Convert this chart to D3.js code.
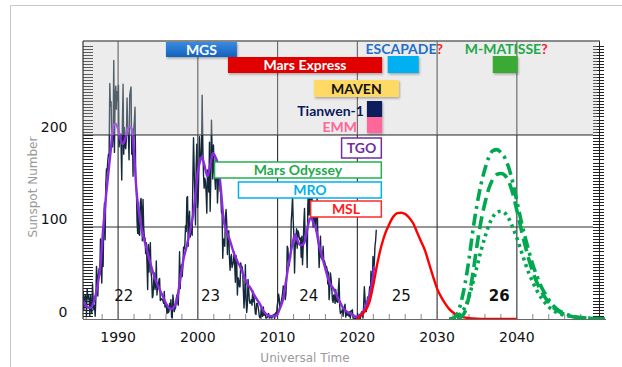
<!DOCTYPE html>
<html><head><meta charset="utf-8">
<script src="https://cdn.jsdelivr.net/npm/d3@7"></script>
<style>body{margin:0;background:#fff;}svg{display:block;}</style>
</head><body>
<svg id="chart" width="622" height="367"></svg>
<script>
// ---------------- DATA ----------------
// Monthly sunspot numbers, starting July 1985
const rawStartYear = 1985, rawStartMonth = 6;
const rawMonthly = [
 20,30,10,22,26,24,
 4,33,22,26,20,3,26,11,6,38,22,10,
 15,3,21,57,47,25,47,55,48,87,57,39,
 84,57,109,126,86,146,163,160,172,179,179,256,
 231,236,188,187,198,281,181,242,253,228,247,237,
 254,187,201,201,189,151,214,255,179,208,188,185,
 196,240,203,200,173,243,248,252,179,206,155,206,
 215,230,153,143,106,93,123,92,91,127,131,118,
 85,130,100,89,88,71,83,60,32,81,51,70,
 83,51,45,23,25,40,50,32,37,63,26,37,
 35,43,44,20,21,22,21,20,17,30,13,14,
 16,6,13,7,8,17,12,21,2,1,26,19,
 8,11,12,22,26,18,15,35,73,33,56,59,
 46,58,78,76,81,101,95,132,133,79,106,117,
 89,95,98,91,152,197,162,134,102,167,190,121,
 129,161,198,179,174,179,243,187,157,142,153,149,
 137,115,162,154,138,192,117,152,216,180,152,189,
 163,154,141,173,173,126,142,166,157,139,137,116,
 114,66,87,86,79,111,119,104,70,94,96,67,
 53,66,70,56,59,62,73,58,40,69,62,26,
 45,42,35,35,61,56,57,52,31,12,26,59,
 22,7,15,43,32,20,17,18,21,15,31,19,
 24,15,6,5,17,17,14,9,3,1,2,14,
 4,3,13,4,5,5,1,1,2,4,6,1,
 2,2,1,1,4,4,5,0,6,7,6,15,
 19,27,22,11,13,19,23,28,36,34,31,21,
 27,41,79,77,61,58,66,66,106,117,134,107,
 91,50,78,85,98,77,96,94,89,86,88,67,
 90,59,79,104,120,87,89,93,56,124,143,113,
 123,146,129,143,114,100,118,104,121,96,120,131,
 91,81,56,72,90,67,66,64,79,62,63,60,
 57,57,54,38,51,21,33,50,44,33,21,18,
 26,26,17,32,19,19,18,33,44,13,6,8,
 7,11,3,9,13,16,2,9,4,5,6,3,
 8,1,9,9,10,1,1,0.5,1,0.4,0.5,1.5,
 6,0.2,1.5,5,0.2,6,8,7,1,15,35,23,
 10,8,17,24,21,25,35,24,52,38,35,68,
 55,60,79,85,97
];

// Smoothed sunspot number (purple)
const smoothYears = [1985.6,1986.0,1986.5,1987.0,1987.4,1987.8,1988.1,1988.5,1988.8,1989.1,1989.4,1989.7,1989.95,1990.3,1990.6,1990.9,1991.2,1991.5,1991.75,1992.0,1992.3,1992.7,1993.1,1993.5,1994.0,1994.4,1994.8,1995.2,1995.6,1996.0,1996.4,1996.7,1997.0,1997.3,1997.6,1997.9,1998.2,1998.6,1999.0,1999.4,1999.7,2000.0,2000.3,2000.5,2000.8,2001.2,2001.5,2001.9,2002.2,2002.6,2002.9,2003.2,2003.6,2004.0,2004.5,2005.0,2005.3,2005.8,2006.2,2006.5,2007.0,2007.5,2007.8,2008.2,2008.8,2009.3,2009.9,2010.3,2010.7,2011.0,2011.3,2011.6,2011.9,2012.2,2012.5,2012.9,2013.3,2013.6,2013.9,2014.2,2014.5,2014.8,2015.2,2015.7,2016.2,2016.6,2017.0,2017.5,2017.9,2018.2,2018.7,2019.1,2019.5,2019.9,2020.2,2020.6,2020.9,2021.3,2021.6,2021.85,2022.1];
const smoothValues = [20,14,12,20,35,60,95,135,160,185,210,212,208,195,190,196,207,209,205,180,140,111,92,79,62,50,40,32,25,17,12,11,13,18,32,50,65,79,95,113,135,160,172,176,168,155,165,180,176,165,140,110,95,86,72,62,57,46,38,35,27,20,16,9,4,3,4,12,22,38,55,70,83,92,85,80,82,92,105,110,104,98,80,64,48,38,33,24,17,12,8,6,4,2,3,6,11,20,28,40,57];

// Cycle 25 prediction (red)
const c25Years  = [2019.9,2020.5,2021,2021.5,2022,2022.5,2023,2023.5,2024,2024.5,2025,2025.5,2026,2026.5,2027,2027.5,2028,2028.5,2029,2029.5,2030,2030.5,2031,2031.5,2032,2032.5,2033,2034,2035,2036,2038,2040,2045,2049.3,2051];
const c25Values = [0,4,9,18,37,60,79,93,103,111,115,115.5,114,110,104,94,84,74,60,46,33,24,17,11,7,4,2.5,1,0.3,0,0,0,null,0,0];

// Cycle 26 predictions (green)
const c26Years = [2031.5,2032,2032.5,2033,2033.5,2034,2034.5,2035,2035.5,2036,2036.5,2037,2037.5,2038,2038.5,2039,2039.5,2040,2040.5,2041,2041.5,2042,2042.5,2043,2043.5,2044,2044.5,2045,2045.5,2046,2047,2048,2049,2050,2051];
const c26High   = [0,1,5,18,38,65,97,124,146,163,176,183,184,181,175,164,148,128,108,90,74,59,47,36,28,21,15,11,8,6,3,1.5,0.8,0.4,0.2];
const c26Mid    = [null,null,0,2,8,25,50,80,106,126,142,152,157,158,156,149,136,118,99,81,65,51,40,31,24,18,13,9.5,7,5,2.5,1.2,0.5,0.2,0.1];
const c26Low    = [null,0,2,6,13,24,40,57,74,89,102,111,116,117,115,109,99,88,75,62,50,40,31,24,18,13,10,7,5,4,2.5,1.5,1,0.5,0.3];

// Axis ticks
const xTickYears = [1990,2000,2010,2020,2030,2040];
const yTickValues = [0,100,200];

// Cycle labels
const cycleLabels = ["22","23","24","25","26"];
const cycleYears  = [1990.7,2001.6,2013.9,2025.5,2037.8];

// Mars missions
const missionNames  = ["MGS","Mars Express","MAVEN","Tianwen-1","EMM","TGO","Mars Odyssey","MRO","MSL","ESCAPADE","M-MATISSE"];
const missionStart  = [1996.0,2003.77,2014.55,2021.2,2021.2,2017.93,2002.0,2005.0,2014.05,2023.8,2036.98];
const missionEnd    = [2004.9,2023.1,2025.2,2023.1,2023.1,2023.1,2023.1,2023.1,2023.1,2027.7,2040.1];

// ---------------- LAYOUT / STYLE ----------------
const svg = d3.select("#chart");
const x = d3.scaleLinear().domain([1985.6, 2050.3]).range([83, 599]);
const y = d3.scaleLinear().domain([0, 302]).range([319, 41]);
const plotL = 83, plotR = 593, plotT = 41, plotB = 319;

const defs = svg.append("defs");
defs.append("clipPath").attr("id","clip").append("rect")
  .attr("x",plotL).attr("y",plotT-2).attr("width",608-plotL).attr("height",plotB-plotT+3);
const g1 = defs.append("linearGradient").attr("id","mgsGrad").attr("x1",0).attr("y1",0).attr("x2",0).attr("y2",1);
g1.append("stop").attr("offset","0").attr("stop-color","#3a8ae0");
g1.append("stop").attr("offset","1").attr("stop-color","#1462bd");
const sh = defs.append("filter").attr("id","shadow").attr("x","-10%").attr("y","-20%").attr("width","130%").attr("height","160%");
sh.append("feDropShadow").attr("dx",1).attr("dy",1.5).attr("stdDeviation",0.8).attr("flood-color","#000").attr("flood-opacity",0.3);

// outer frame
svg.append("path").attr("d","M10.5,367 V5.5 H622").attr("fill","none").attr("stroke","#c8c8c8").attr("stroke-width",1);

// grid
svg.append("g").selectAll("line").data(xTickYears).join("line")
  .attr("x1",d=>x(d)).attr("x2",d=>x(d)).attr("y1",plotT).attr("y2",plotB)
  .attr("stroke","#2e2e2e").attr("stroke-width",1.1);
svg.append("g").selectAll("line").data([100,200]).join("line")
  .attr("x1",plotL).attr("x2",plotR).attr("y1",d=>y(d)).attr("y2",d=>y(d))
  .attr("stroke","#2e2e2e").attr("stroke-width",1.1);

// minor ticks bottom (every 2 years)
const minorX = d3.range(1986, 2051, 2).filter(v=>v%10!==0);
svg.append("g").selectAll("line").data(minorX).join("line")
  .attr("x1",d=>x(d)).attr("x2",d=>x(d)).attr("y1",plotB).attr("y2",plotB-5)
  .attr("stroke","#888").attr("stroke-width",1);

// left inner ticks
const yMinor = d3.range(0, 300, 10/3);
svg.append("g").selectAll("line").data(yMinor).join("line")
  .attr("x1",plotL).attr("x2",plotL+10).attr("y1",d=>Math.round(y(d))+0.5).attr("y2",d=>Math.round(y(d))+0.5)
  .attr("stroke","#222").attr("stroke-width",1);
// right axis with ticks
svg.append("line").attr("x1",599.5).attr("x2",599.5).attr("y1",plotT).attr("y2",plotB)
  .attr("stroke","#222").attr("stroke-width",1);
svg.append("g").selectAll("line").data(yMinor).join("line")
  .attr("x1",593).attr("x2",604).attr("y1",d=>Math.round(y(d))+0.5).attr("y2",d=>Math.round(y(d))+0.5)
  .attr("stroke","#222").attr("stroke-width",1);

// data lines
const data = svg.append("g").attr("clip-path","url(#clip)");
const rawPts = rawMonthly.map((v,i)=>({t: rawStartYear + (rawStartMonth + i + 0.5)/12, v}));
const line = d3.line().defined(d=>d.v!=null).x(d=>x(d.t)).y(d=>y(d.v));
data.append("path").datum(rawPts).attr("d",line).attr("fill","none")
  .attr("stroke","#13283a").attr("stroke-width",1.4).attr("stroke-linejoin","round");
const smoothLine = d3.line().curve(d3.curveMonotoneX).defined(d=>d.v!=null).x(d=>x(d.t)).y(d=>y(d.v));
data.append("path").datum(smoothYears.map((t,i)=>({t,v:smoothValues[i]}))).attr("d",smoothLine)
  .attr("fill","none").attr("stroke","#8a2be2").attr("stroke-width",2.4);
data.append("path").datum(c25Years.map((t,i)=>({t,v:c25Values[i]}))).attr("d",smoothLine)
  .attr("fill","none").attr("stroke","#ff0000").attr("stroke-width",2.4);
const greenStyles = [
  {vals:c26High, dash:"12,5,3,5"},
  {vals:c26Mid,  dash:"13,6"},
  {vals:c26Low,  dash:"3,4"}
];
greenStyles.forEach(s=>{
  data.append("path").datum(c26Years.map((t,i)=>({t,v:s.vals[i]}))).attr("d",smoothLine)
    .attr("fill","none").attr("stroke","#00a850").attr("stroke-width",3.6).attr("stroke-dasharray",s.dash);
});

// shaded overlay above 200
svg.append("rect").attr("x",plotL).attr("y",plotT).attr("width",plotR-plotL+4).attr("height",y(200)-plotT)
  .attr("fill","rgb(200,200,200)").attr("opacity",0.35);

// frame lines
svg.append("line").attr("x1",plotL).attr("x2",600).attr("y1",plotT).attr("y2",plotT).attr("stroke","#666").attr("stroke-width",1.5);
svg.append("line").attr("x1",plotL).attr("x2",plotL).attr("y1",plotT).attr("y2",plotB).attr("stroke","#333").attr("stroke-width",1.2);
svg.append("line").attr("x1",plotL).attr("x2",606).attr("y1",plotB+0.5).attr("y2",plotB+0.5).attr("stroke","#666").attr("stroke-width",1.2);

// axis labels
const tickFont = "'DejaVu Sans', Verdana, sans-serif";
svg.append("g").selectAll("text").data(xTickYears).join("text")
  .attr("x",d=>x(d)).attr("y",342).attr("text-anchor","middle")
  .attr("font-family",tickFont).attr("font-size",14).attr("fill","#111").text(d=>d);
svg.append("g").selectAll("text").data(yTickValues).join("text")
  .attr("x",67.5).attr("y",d=>y(d)-2.5).attr("text-anchor","end")
  .attr("font-family",tickFont).attr("font-size",14).attr("fill","#111").text(d=>d);
svg.append("text").attr("transform","translate(37,187) rotate(-90)").attr("text-anchor","middle")
  .attr("font-family",tickFont).attr("font-size",12).attr("fill","#9a9a9a").text("Sunspot Number");
svg.append("text").attr("x",305).attr("y",362).attr("text-anchor","middle")
  .attr("font-family",tickFont).attr("font-size",12).attr("fill","#9a9a9a").text("Universal Time");

// cycle labels
svg.append("g").selectAll("text").data(cycleLabels).join("text")
  .attr("x",(d,i)=>x(cycleYears[i])).attr("y",301).attr("text-anchor","middle")
  .attr("font-family",tickFont).attr("font-size",15).attr("font-weight",(d,i)=>i===4?"bold":"normal")
  .attr("fill","#111").text(d=>d);

// missions
const rowTop = [42,57,80,101,117,138,162,182,201,56,56];
const rowH   = [15,16,17,16,16,20,16,16,16,17,17];
const mFill  = ["url(#mgsGrad)","#e00000","#ffd966","#0c1a5c","#ff6699","#fff","#fff","#fff","#fff","#00b0f0","#3aaa35"];
const mStroke= [null,null,null,null,null,"#7030a0","#22b14c","#00b0f0","#ff2a2a",null,null];
const mText  = ["#fff","#fff","#111","#0c1a5c","#ff6699","#7030a0","#1fa84d","#00b0f0","#ff1a1a","#1f6ec9","#22a84a"];
const mLabelPos = ["in","in","in","left","left","in","in","in","in","above","above"];
const mLabelDx = [0,0,0,-3,-10,0,0,0,0,0,0];
const labelFont = "Lato, 'Open Sans', sans-serif";
const mg = svg.append("g");
missionNames.forEach((name,i)=>{
  const x0 = x(missionStart[i]), x1 = x(missionEnd[i]);
  const r = mg.append("rect").attr("x",x0).attr("y",rowTop[i]).attr("width",x1-x0).attr("height",rowH[i])
    .attr("fill",mFill[i]);
  if (mStroke[i]) r.attr("x",x0+0.75).attr("width",x1-x0-1.5).attr("stroke",mStroke[i]).attr("stroke-width",1.5);
  else r.attr("filter","url(#shadow)");
  const t = mg.append("text").attr("font-family",labelFont).attr("font-weight","bold").attr("font-size",14)
    .attr("fill",mText[i]);
  if (mLabelPos[i]==="in") {
    t.attr("x",(x0+x1)/2).attr("y",rowTop[i]+rowH[i]/2+5).attr("text-anchor","middle").text(name);
  } else if (mLabelPos[i]==="left") {
    t.attr("x",x0+mLabelDx[i]).attr("y",rowTop[i]+rowH[i]-1.5).attr("text-anchor","end").text(name);
  } else {
    t.attr("x",(x0+x1)/2+1).attr("y",54).attr("text-anchor","middle");
    t.append("tspan").text(name);
    t.append("tspan").attr("fill","#ff1a1a").text("?");
  }
});
</script>
</body></html>
